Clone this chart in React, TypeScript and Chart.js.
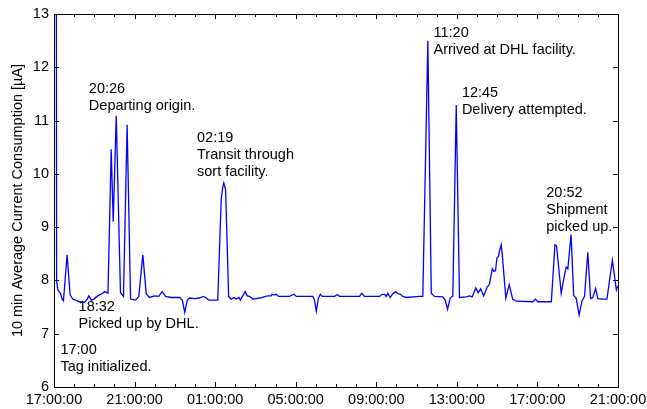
import React, { useEffect, useRef } from "react";
import { Chart, registerables } from "chart.js";

Chart.register(...registerables);

// hours since 17:00 on day 1
const hours = [
  0.0, 0.05, 0.13, 0.19, 0.32, 0.41, 0.47, 0.65, 0.8, 0.93, 1.07, 1.27, 1.52, 1.65, 1.73, 1.85, 1.98,
  2.17, 2.42, 2.51, 2.62, 2.68, 2.84, 2.94, 3.09, 3.3, 3.45, 3.63, 3.8, 4.05, 4.21, 4.41, 4.58, 4.74,
  4.99, 5.2, 5.37, 5.54, 5.82, 6.24, 6.37, 6.49, 6.61, 6.73, 6.98, 7.22, 7.42, 7.56, 7.69, 8.13, 8.3,
  8.38, 8.43, 8.52, 8.67, 8.8, 8.93, 9.05, 9.18, 9.25, 9.49, 9.59, 9.71, 9.87, 10.21, 10.5, 10.62,
  10.78, 10.83, 10.95, 11.03, 11.15, 11.69, 11.91, 12.03, 12.85, 12.93, 13.02, 13.13, 13.22, 13.32,
  13.93, 14.06, 14.18, 15.17, 15.28, 15.41, 16.16, 16.29, 16.41, 16.49, 16.57, 16.69, 16.82, 16.96,
  17.07, 17.2, 17.32, 17.49, 18.15, 18.31, 18.56, 18.73, 18.89, 19.3, 19.42, 19.54, 19.67, 19.8,
  19.97, 20.13, 20.47, 20.63, 20.76, 20.94, 21.06, 21.18, 21.33, 21.51, 21.61, 21.76, 21.84, 21.92,
  21.99, 22.07, 22.11, 22.2, 22.25, 22.43, 22.6, 22.77, 22.95, 23.77, 23.9, 24.02, 24.69, 24.87,
  24.95, 25.18, 25.35, 25.43, 25.51, 25.67, 25.8, 25.93, 26.07, 26.21, 26.34, 26.5, 26.64, 26.75,
  26.89, 27.0, 27.25, 27.45, 27.72, 27.92, 28.0,
];

// 10 min average current, µA
const current = [
  0, 40, 8.0, 7.82, 7.76, 7.65, 7.62, 8.48, 7.73, 7.65, 7.63, 7.6, 7.59, 7.65, 7.71, 7.63, 7.65,
  7.71, 7.76, 7.79, 7.77, 7.76, 10.46, 9.1, 11.09, 7.77, 7.7, 10.92, 7.65, 7.63, 7.7, 8.48, 7.75, 7.68,
  7.71, 7.7, 7.79, 7.7, 7.68, 7.68, 7.63, 7.4, 7.62, 7.67, 7.66, 7.67, 7.7, 7.67, 7.63, 7.63, 9.51,
  9.76, 9.83, 9.7, 7.7, 7.65, 7.68, 7.65, 7.68, 7.63, 7.79, 7.71, 7.7, 7.65, 7.67, 7.7, 7.71,
  7.71, 7.74, 7.73, 7.74, 7.7, 7.7, 7.74, 7.7, 7.7, 7.63, 7.42, 7.67, 7.74, 7.7,
  7.7, 7.73, 7.7, 7.7, 7.76, 7.7, 7.7, 7.74, 7.74, 7.7, 7.76, 7.68, 7.75, 7.79,
  7.75, 7.74, 7.7, 7.68, 7.7, 7.7, 12.5, 7.76, 7.7, 7.69, 7.63, 7.46, 7.67, 7.71,
  11.29, 7.68, 7.69, 7.71, 7.69, 7.86, 7.77, 7.84, 7.71, 7.88, 7.92, 8.22, 8.17, 8.18,
  8.42, 8.45, 8.54, 8.67, 8.51, 7.67, 7.92, 7.65, 7.61, 7.6, 7.65, 7.6, 7.6, 8.67,
  8.65, 7.76, 8.12, 8.25, 8.22, 8.86, 7.72, 7.66, 7.35, 7.61, 7.7, 8.53, 7.66, 7.68,
  7.85, 7.66, 7.65, 7.65, 8.38, 7.82, 7.9,
];

const xTickLabels = ["17:00:00", "21:00:00", "01:00:00", "05:00:00", "09:00:00", "13:00:00", "17:00:00", "21:00:00"];
const yTickValues = [6, 7, 8, 9, 10, 11, 12, 13];

const eventTexts = [
  ["17:00", "Tag initialized."],
  ["18:32", "Picked up by DHL."],
  ["20:26", "Departing origin."],
  ["02:19", "Transit through", "sort facility."],
  ["11:20", "Arrived at DHL facility."],
  ["12:45", "Delivery attempted."],
  ["20:52", "Shipment", "picked up."],
];
const eventHours = [0.32, 1.22, 1.73, 7.1, 18.84, 20.25, 24.44];
const eventValues = [6.7, 7.5, 11.59, 10.67, 12.65, 11.52, 9.65];

const FONT = "'Liberation Sans', Arial, Helvetica, sans-serif";

const framePlugin = {
  id: "frame",
  afterDatasetsDraw(chart: any) {
    const { ctx, scales } = chart;
    const xs = scales.x;
    const ys = scales.y;
    ctx.save();
    ctx.fillStyle = "#000";
    ctx.font = `14.5px ${FONT}`;
    ctx.textAlign = "left";
    ctx.textBaseline = "middle";
    eventTexts.forEach((lines, i) => {
      const px = xs.getPixelForValue(eventHours[i]);
      const py = ys.getPixelForValue(eventValues[i]);
      lines.forEach((t, j) => ctx.fillText(t, px, py + j * 17));
    });
    ctx.restore();
  },
  afterDraw(chart: any) {
    const { ctx, chartArea, scales } = chart;
    const { left, right, top, bottom } = chartArea;
    ctx.save();
    ctx.strokeStyle = "#000";
    ctx.lineWidth = 1;
    ctx.beginPath();
    for (let h = 0; h <= 28; h++) {
      const x = Math.round(scales.x.getPixelForValue(h)) + 0.5;
      const len = h % 4 === 0 ? 5 : 3;
      ctx.moveTo(x, bottom);
      ctx.lineTo(x, bottom - len);
      ctx.moveTo(x, top);
      ctx.lineTo(x, top + len);
    }
    yTickValues.forEach((v) => {
      const y = Math.round(scales.y.getPixelForValue(v)) + 0.5;
      ctx.moveTo(left, y);
      ctx.lineTo(left + 5, y);
      ctx.moveTo(right, y);
      ctx.lineTo(right - 5, y);
    });
    ctx.stroke();
    ctx.strokeRect(Math.round(left) + 0.5, Math.round(top) + 0.5, Math.round(right - left), Math.round(bottom - top));
    ctx.restore();
  },
};

export default function App() {
  const ref = useRef<HTMLCanvasElement | null>(null);
  useEffect(() => {
    document.body.style.margin = "0";
    const canvas = ref.current;
    if (!canvas) return;
    const data = hours.map((h, i) => ({ x: h, y: current[i] }));
    const chart = new Chart(canvas, {
      type: "line",
      data: {
        datasets: [
          {
            data,
            borderColor: "#0000ff",
            borderWidth: 1.3,
            pointRadius: 0,
            tension: 0,
            fill: false,
          },
        ],
      },
      options: {
        animation: false,
        responsive: true,
        maintainAspectRatio: false,
        layout: { padding: { top: 14, right: 29, left: 0, bottom: 0 } },
        plugins: { legend: { display: false }, tooltip: { enabled: false } },
        scales: {
          x: {
            type: "linear",
            min: 0,
            max: 28,
            afterFit: (s: any) => {
              s.height = 22;
              s.paddingLeft = 0;
              s.paddingRight = 0;
            },
            grid: { display: false, drawTicks: false },
            border: { display: false },
            ticks: {
              stepSize: 4,
              autoSkip: false,
              maxRotation: 0,
              padding: 4,
              color: "#000",
              font: { family: FONT, size: 14.5 },
              callback: (v: any) => xTickLabels[Math.round(Number(v) / 4)] ?? "",
            },
          },
          y: {
            min: 6,
            max: 13,
            afterFit: (s: any) => {
              s.width = 54;
              s.paddingTop = 0;
              s.paddingBottom = 0;
            },
            grid: { display: false, drawTicks: false },
            border: { display: false },
            ticks: {
              stepSize: 1,
              padding: 5,
              color: "#000",
              font: { family: FONT, size: 14.5 },
            },
            title: {
              display: true,
              text: "10 min Average Current Consumption [µA]",
              color: "#000",
              font: { family: FONT, size: 14.5 },
              padding: { top: 9, bottom: 0 },
            },
          },
        },
      },
      plugins: [framePlugin],
    });
    return () => chart.destroy();
  }, []);
  return (
    <div style={{ width: 647, height: 409, position: "relative" }}>
      <canvas ref={ref} />
    </div>
  );
}
